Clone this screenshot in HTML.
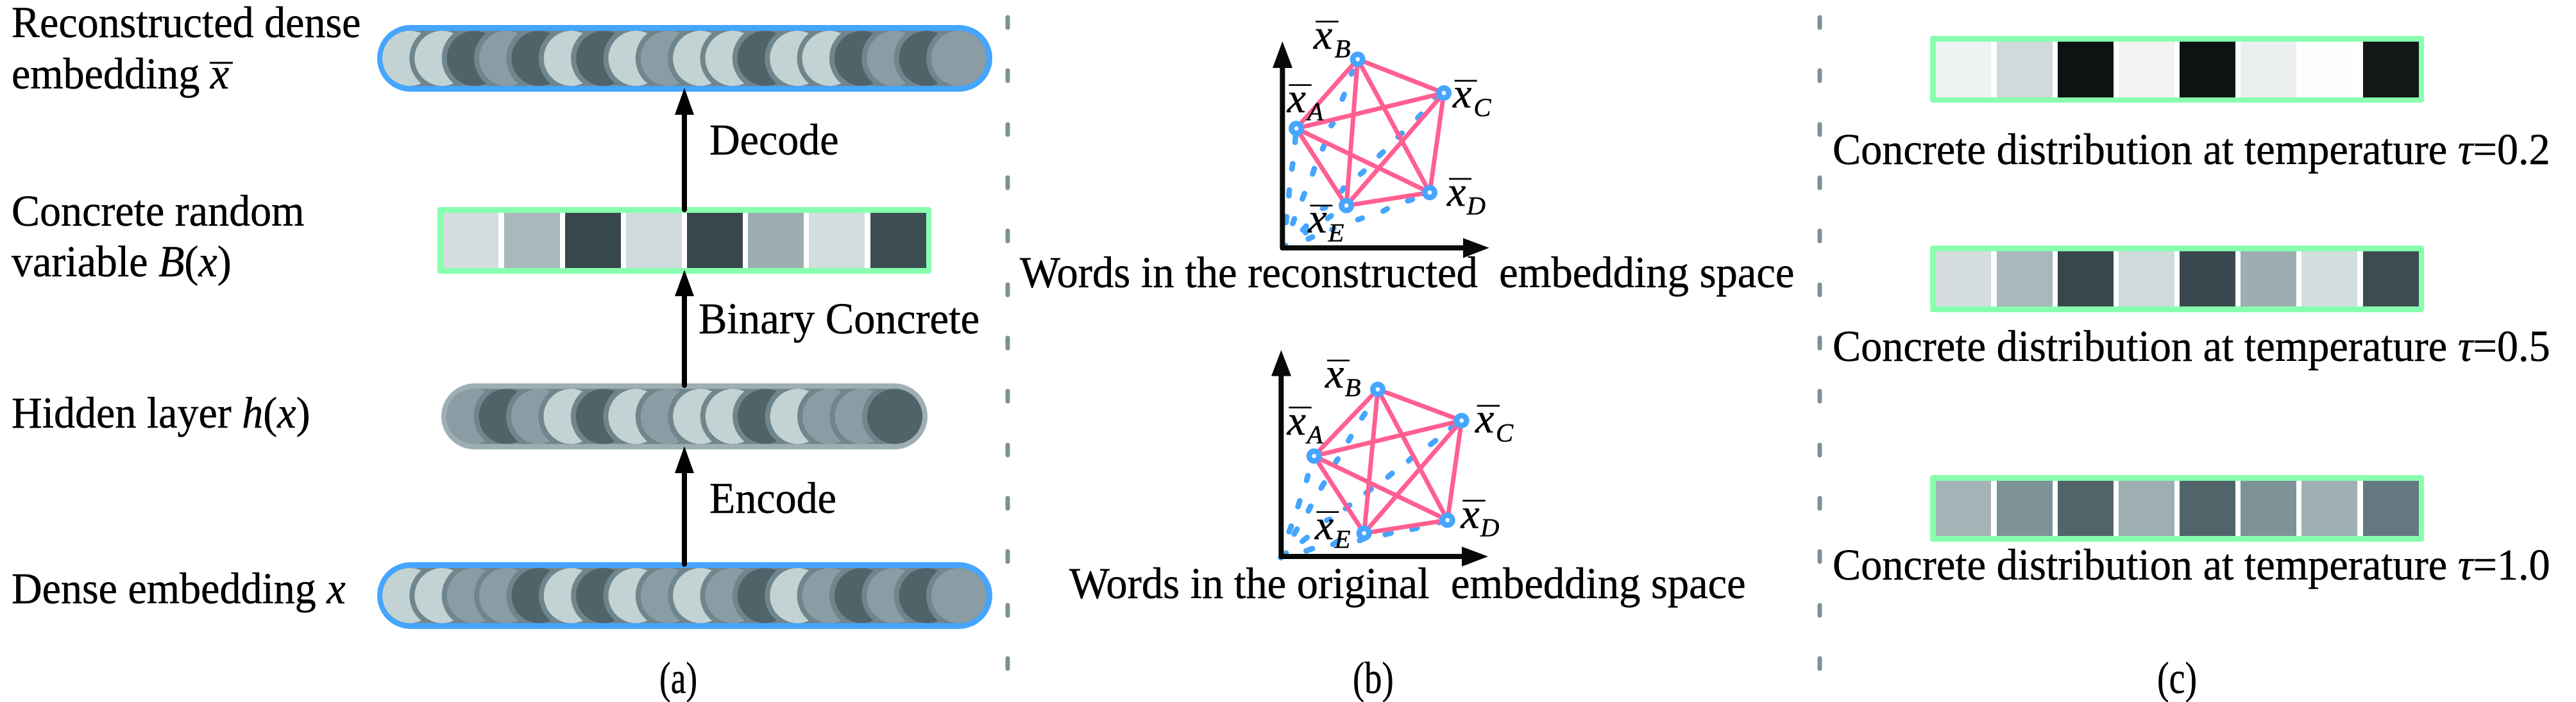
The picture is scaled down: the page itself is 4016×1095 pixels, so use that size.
<!DOCTYPE html>
<html><head><meta charset="utf-8"><style>
html,body{margin:0;padding:0;background:#fff;width:4016px;height:1095px;overflow:hidden}
svg{display:block}
text{font-family:"Liberation Serif",serif;font-size:69px;fill:#000;white-space:pre;stroke:#000;stroke-width:.5px}
.i{font-style:italic}
.cap{font-size:70px}
.dash{stroke:#45A5FF;stroke-width:26;stroke-linecap:round;fill:none}
.pk{stroke:#FF5F91;stroke-width:21;fill:none}
.nd{fill:#fff;stroke:#45A5FF;stroke-width:26}
.bar{stroke:#000;stroke-width:8}
.lx{font-size:198px;font-style:italic;stroke-width:1.5px}
.ls{font-size:122px;font-style:italic;stroke-width:1.5px}
.sep{stroke:#7C9196;stroke-width:7;stroke-linecap:round}
.d circle{stroke:#6F868C;stroke-width:8}
.L{fill:#C3D2D3}.M{fill:#8A9DA4}.D{fill:#4F6369}
</style></head><body>
<svg width="4016" height="1095" viewBox="0 0 4016 1095" xmlns="http://www.w3.org/2000/svg">
<defs>
<clipPath id="c1"><rect x="596" y="48" width="942" height="86" rx="43"/></clipPath>
<clipPath id="c2"><rect x="696" y="606.5" width="742" height="86" rx="43"/></clipPath>
<clipPath id="c3"><rect x="596" y="886" width="942" height="86" rx="43"/></clipPath>
</defs>
<rect width="4016" height="1095" fill="#fff"/>

<!-- separators -->
<g class="sep">
<path d="M1571 27V43M1571 110V126M1571 194V210M1571 277V293M1571 360V376M1571 444V460M1571 527V543M1571 610V626M1571 694V710M1571 777V793M1571 860V876M1571 944V960M1571 1027V1043"/>
<path d="M2837 27V43M2837 110V126M2837 194V210M2837 277V293M2837 360V376M2837 444V460M2837 527V543M2837 610V626M2837 694V710M2837 777V793M2837 860V876M2837 944V960M2837 1027V1043"/>
</g>

<!-- top capsule -->
<rect x="588" y="39" width="959" height="104" rx="52" fill="#45A5FF"/>
<rect x="596" y="48" width="942" height="86" rx="43" fill="#6F868C"/>
<g class="d" clip-path="url(#c1)">
<circle class="L" cx="639" cy="91" r="47"/><circle class="L" cx="689.35" cy="91" r="47"/><circle class="D" cx="739.7" cy="91" r="47"/><circle class="M" cx="790.05" cy="91" r="47"/><circle class="D" cx="840.4" cy="91" r="47"/><circle class="L" cx="890.75" cy="91" r="47"/><circle class="D" cx="941.1" cy="91" r="47"/><circle class="L" cx="991.45" cy="91" r="47"/><circle class="M" cx="1041.8" cy="91" r="47"/><circle class="L" cx="1092.15" cy="91" r="47"/><circle class="L" cx="1142.5" cy="91" r="47"/><circle class="D" cx="1192.85" cy="91" r="47"/><circle class="L" cx="1243.2" cy="91" r="47"/><circle class="L" cx="1293.55" cy="91" r="47"/><circle class="D" cx="1343.9" cy="91" r="47"/><circle class="M" cx="1394.25" cy="91" r="47"/><circle class="D" cx="1444.6" cy="91" r="47"/><circle class="M" cx="1494.95" cy="91" r="47"/>
</g>

<!-- hidden capsule -->
<rect x="688" y="598" width="758" height="103" rx="52" fill="#9DAFB3"/>
<rect x="696" y="606.5" width="742" height="86" rx="43" fill="#6F868C"/>
<g class="d" clip-path="url(#c2)">
<circle class="M" cx="739" cy="649.5" r="47"/><circle class="D" cx="789.5" cy="649.5" r="47"/><circle class="M" cx="839.9" cy="649.5" r="47"/><circle class="L" cx="890.4" cy="649.5" r="47"/><circle class="D" cx="940.8" cy="649.5" r="47"/><circle class="L" cx="991.3" cy="649.5" r="47"/><circle class="M" cx="1041.8" cy="649.5" r="47"/><circle class="L" cx="1092.2" cy="649.5" r="47"/><circle class="L" cx="1142.7" cy="649.5" r="47"/><circle class="D" cx="1193.1" cy="649.5" r="47"/><circle class="L" cx="1243.6" cy="649.5" r="47"/><circle class="M" cx="1294" cy="649.5" r="47"/><circle class="M" cx="1344.5" cy="649.5" r="47"/><circle class="D" cx="1395" cy="649.5" r="47"/>
</g>

<!-- bottom capsule -->
<rect x="588" y="877" width="959" height="104" rx="52" fill="#45A5FF"/>
<rect x="596" y="886" width="942" height="86" rx="43" fill="#6F868C"/>
<g class="d" clip-path="url(#c3)">
<circle class="L" cx="639" cy="929" r="47"/><circle class="L" cx="689.35" cy="929" r="47"/><circle class="M" cx="739.7" cy="929" r="47"/><circle class="M" cx="790.05" cy="929" r="47"/><circle class="D" cx="840.4" cy="929" r="47"/><circle class="L" cx="890.75" cy="929" r="47"/><circle class="D" cx="941.1" cy="929" r="47"/><circle class="L" cx="991.45" cy="929" r="47"/><circle class="M" cx="1041.8" cy="929" r="47"/><circle class="L" cx="1092.15" cy="929" r="47"/><circle class="M" cx="1142.5" cy="929" r="47"/><circle class="D" cx="1192.85" cy="929" r="47"/><circle class="L" cx="1243.2" cy="929" r="47"/><circle class="M" cx="1293.55" cy="929" r="47"/><circle class="D" cx="1343.9" cy="929" r="47"/><circle class="M" cx="1394.25" cy="929" r="47"/><circle class="D" cx="1444.6" cy="929" r="47"/><circle class="M" cx="1494.95" cy="929" r="47"/>
</g>

<!-- concrete bar (a) -->
<rect x="682" y="323" width="770" height="104" rx="4" fill="#88FFAE"/>
<rect x="691" y="332" width="753" height="86" fill="#fff"/>
<rect x="691" y="332" width="86" height="86" fill="#D5DDDF"/><rect x="786" y="332" width="87" height="86" fill="#A8B8BB"/><rect x="881" y="332" width="87" height="86" fill="#38464D"/><rect x="976" y="332" width="87" height="86" fill="#D0DBDD"/><rect x="1071" y="332" width="87" height="86" fill="#38464D"/><rect x="1166" y="332" width="87" height="86" fill="#9CAEB1"/><rect x="1261" y="332" width="87" height="86" fill="#D2DDDD"/><rect x="1357" y="332" width="87" height="86" fill="#3C4C53"/>

<!-- arrows (a) -->
<g stroke="#000" stroke-width="8" stroke-linecap="round">
<path d="M1067 327V170M1067 601V455M1067 880V730"/>
</g>
<path d="M1067 137L1082 179H1052ZM1067 421L1082 462H1052ZM1067 696L1082 738H1052Z" fill="#000"/>

<!-- panel c bars -->
<rect x="3009" y="56" width="770" height="104" rx="4" fill="#88FFAE"/>
<rect x="3018" y="65" width="753" height="87" fill="#fff"/>
<rect x="3018" y="65" width="86" height="87" fill="#EFF2F3"/><rect x="3113" y="65" width="87" height="87" fill="#D0DADC"/><rect x="3208" y="65" width="87" height="87" fill="#0E1213"/><rect x="3303" y="65" width="87" height="87" fill="#F2F4F4"/><rect x="3398" y="65" width="87" height="87" fill="#0E1213"/><rect x="3493" y="65" width="87" height="87" fill="#EBEFEF"/><rect x="3588" y="65" width="87" height="87" fill="#FDFEFE"/><rect x="3684" y="65" width="87" height="87" fill="#151819"/>

<rect x="3009" y="383" width="770" height="104" rx="4" fill="#88FFAE"/>
<rect x="3018" y="392" width="753" height="86" fill="#fff"/>
<rect x="3018" y="392" width="86" height="86" fill="#D5DDDF"/><rect x="3113" y="392" width="87" height="86" fill="#A8B8BB"/><rect x="3208" y="392" width="87" height="86" fill="#38464D"/><rect x="3303" y="392" width="87" height="86" fill="#D0DBDD"/><rect x="3398" y="392" width="87" height="86" fill="#3A484F"/><rect x="3493" y="392" width="87" height="86" fill="#9CAEB1"/><rect x="3588" y="392" width="87" height="86" fill="#D2DDDD"/><rect x="3684" y="392" width="87" height="86" fill="#3C4C53"/>

<rect x="3009" y="741" width="770" height="104" rx="4" fill="#88FFAE"/>
<rect x="3018" y="750" width="753" height="86" fill="#fff"/>
<rect x="3018" y="750" width="86" height="86" fill="#A3B3B6"/><rect x="3113" y="750" width="87" height="86" fill="#7E9398"/><rect x="3208" y="750" width="87" height="86" fill="#516469"/><rect x="3303" y="750" width="87" height="86" fill="#9DAFB3"/><rect x="3398" y="750" width="87" height="86" fill="#516469"/><rect x="3493" y="750" width="87" height="86" fill="#7E9398"/><rect x="3588" y="750" width="87" height="86" fill="#9EB0B4"/><rect x="3684" y="750" width="87" height="86" fill="#64797F"/>

<!-- top graph -->
<g transform="translate(1940,20) scale(.33333)">
<path class="dash" d="M501 286L509 274M458 404L467 382M406 528L414 518M237 606L240 574M366 637L374 618M222 731L226 706M319 754L327 729M208 856L210 829M271 871L281 846M456 833L464 820M195 981L197 954M226 986L234 964M273 1016L289 998M286 1029L294 1016M299 1058L318 1049M389 962L406 950M366 915L379 910M410 1015L418 1010M531 968L551 961M649 928L668 917M764 880L786 873M543 755L559 741M631 669L649 651M719 581L737 563M811 492L827 475M890 395L900 385M185 1095L192 1088"/>
<path d="M178 1100V240" stroke="#070a09" stroke-width="24" stroke-linecap="round" fill="none"/>
<path d="M178 1100H1040" stroke="#070a09" stroke-width="24" stroke-linecap="round" fill="none"/>
<path d="M178 133L225 258H132ZM1145 1100L1023 1147V1054Z" fill="#070a09"/>
<path class="pk" d="M243 541L530 217M243 541L933 375M243 541L867 841M243 541L477 902M530 217L933 375M530 217L867 841M530 217L477 902M933 375L867 841M933 375L477 902M867 841L477 902"/>
<circle class="nd" cx="243" cy="541" r="23"/><circle class="nd" cx="530" cy="217" r="23"/><circle class="nd" cx="933" cy="375" r="23"/><circle class="nd" cx="867" cy="841" r="23"/><circle class="nd" cx="477" cy="902" r="23"/>
<path class="bar" d="M208 338H314M333 41H440M983 318H1088M957 777H1062M307 902H412"/>
<text class="lx" x="200" y="465">x</text><text class="ls" x="295" y="503">A</text>
<text class="lx" x="324" y="168">x</text><text class="ls" x="422" y="208">B</text>
<text class="lx" x="975" y="443">x</text><text class="ls" x="1072" y="483">C</text>
<text class="lx" x="948" y="903">x</text><text class="ls" x="1040" y="943">D</text>
<text class="lx" x="298" y="1028">x</text><text class="ls" x="392" y="1070">E</text>
</g>

<!-- bottom graph -->
<g transform="translate(1940,540) scale(.33333)">
<path class="dash" d="M550 336L564 315M487 443L498 423M428 542L437 528M291 628L297 606M359 664L373 640M251 751L259 724M299 771L310 749M569 687L593 668M671 612L691 595M768 537L782 523M871 460L894 442M965 385L975 375M473 760L492 744M209 868L219 842M233 879L246 856M271 913L293 895M289 958L318 947M414 928L441 910M539 909L566 897M659 881L686 874M784 857L808 851M910 825L920 822M170 990L195 968M385 815L400 810"/>
<path d="M172 984V125" stroke="#070a09" stroke-width="24" stroke-linecap="round" fill="none"/>
<path d="M172 984H1035" stroke="#070a09" stroke-width="24" stroke-linecap="round" fill="none"/>
<path d="M172 18L219 140H126ZM1140 984L1017 1031V938Z" fill="#070a09"/>
<path class="pk" d="M326 514L624 202M326 514L1016 348M326 514L950 814M326 514L560 875M624 202L1016 348M624 202L950 814M624 202L560 875M1016 348L950 814M1016 348L560 875M950 814L560 875"/>
<circle class="nd" cx="326" cy="514" r="23"/><circle class="nd" cx="624" cy="202" r="23"/><circle class="nd" cx="1016" cy="348" r="23"/><circle class="nd" cx="950" cy="814" r="23"/><circle class="nd" cx="560" cy="875" r="23"/>
<path class="bar" d="M208 287H314M387 67H492M1088 279H1194M1021 723H1127M337 776H442"/>
<text class="lx" x="200" y="414">x</text><text class="ls" x="293" y="455">A</text>
<text class="lx" x="378" y="194">x</text><text class="ls" x="470" y="234">B</text>
<text class="lx" x="1080" y="404">x</text><text class="ls" x="1176" y="445">C</text>
<text class="lx" x="1012" y="850">x</text><text class="ls" x="1104" y="889">D</text>
<text class="lx" x="330" y="903">x</text><text class="ls" x="422" y="944">E</text>
</g>

<!-- labels (a) -->
<text transform="translate(18 58) scale(.957 1)">Reconstructed dense</text>
<text transform="translate(18 138) scale(.957 1)">embedding <tspan class="i">x</tspan></text>
<rect x="327" y="96.5" width="36" height="3" fill="#000"/>
<text transform="translate(18 352) scale(.957 1)">Concrete random</text>
<text transform="translate(18 431) scale(.957 1)">variable <tspan class="i">B</tspan>(<tspan class="i">x</tspan>)</text>
<text transform="translate(18 667) scale(.957 1)">Hidden layer <tspan class="i">h</tspan>(<tspan class="i">x</tspan>)</text>
<text transform="translate(18 941) scale(.957 1)">Dense embedding <tspan class="i">x</tspan></text>
<text transform="translate(1106 241) scale(.957 1)">Decode</text>
<text transform="translate(1089 520) scale(.965 1)">Binary Concrete</text>
<text transform="translate(1106 800) scale(.957 1)">Encode</text>
<text class="cap" transform="translate(1028 1081) scale(.76 1)">(a)</text>

<!-- labels (b) -->
<text transform="translate(1590 448) scale(.965 1)">Words in the reconstructed  embedding space</text>
<text transform="translate(1667 933) scale(.964 1)">Words in the original  embedding space</text>
<text class="cap" transform="translate(2109 1081) scale(.78 1)">(b)</text>

<!-- labels (c) -->
<text transform="translate(2857 256) scale(.96 1)">Concrete distribution at temperature <tspan class="i">τ</tspan>=0.2</text>
<text transform="translate(2857 563) scale(.96 1)">Concrete distribution at temperature <tspan class="i">τ</tspan>=0.5</text>
<text transform="translate(2857 904) scale(.96 1)">Concrete distribution at temperature <tspan class="i">τ</tspan>=1.0</text>
<text class="cap" transform="translate(3363 1081) scale(.8 1)">(c)</text>
</svg>
</body></html>
